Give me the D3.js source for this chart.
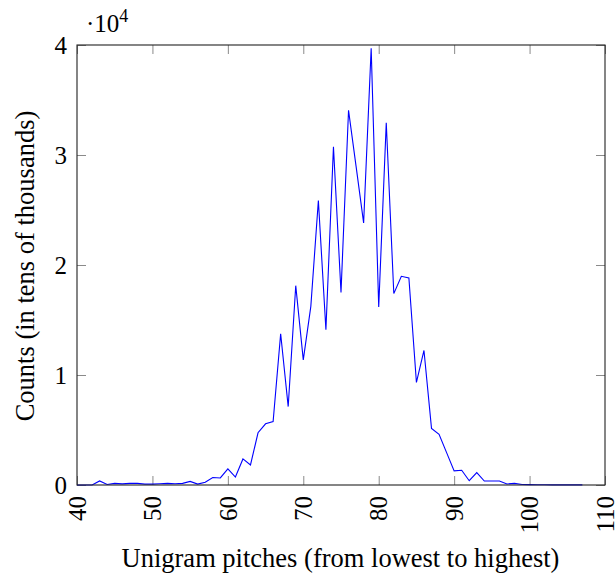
<!DOCTYPE html>
<html>
<head>
<meta charset="utf-8">
<script src="https://cdn.jsdelivr.net/npm/d3@7"></script>
<style>
  html, body { margin: 0; padding: 0; background: #fff; }
  svg { display: block; }
  text { font-family: "Liberation Serif", "Times New Roman", serif; fill: #000; }
</style>
</head>
<body>
<svg id="chart" width="616" height="575"></svg>
<script>
// ---- data ----
const pitches = d3.range(40, 108);
const counts = [
  0, 0, 0, 370, 50, 150, 100, 150, 150, 80,      // 40-49
  80, 120, 150, 120, 150, 330, 80, 250, 680, 640, // 50-59
  1470, 720, 2370, 1820, 4750, 5560, 5770, 13750, 7130, 18120, // 60-69
  11380, 16240, 25870, 14120, 30750, 17510, 34060, 28960, 23830, 39710, // 70-79
  16180, 32940, 17400, 18970, 18820, 9320, 12230, 5150, 4610, 2940, // 80-89
  1280, 1340, 390, 1120, 360, 360, 360, 90, 150, 40, // 90-99
  30, 20, 20, 10, 10, 10, 10, 10                 // 100-107
];
const xTicks = [40, 50, 60, 70, 80, 90, 100, 110];
const yTicks = [0, 10000, 20000, 30000, 40000];
const yTickLabels = ["0", "1", "2", "3", "4"];
const xLabel = "Unigram pitches (from lowest to highest)";
const yLabel = "Counts (in tens of thousands)";

// ---- layout ----
const mLeft = 77, mRight = 605, mTop = 45, mBottom = 485;
const tickLen = 9;
const tickFont = 25;
const labelFont = 26.5;

const svg = d3.select("#chart");
const x = d3.scaleLinear().domain([40, 110]).range([mLeft, mRight]);
const y = d3.scaleLinear().domain([0, 40000]).range([mBottom, mTop]);

// ticks (all four sides, inward)
const tickColor = "#8a8a8a";
const axB = d3.axisBottom(x).tickValues(xTicks).tickSizeInner(-tickLen).tickSizeOuter(0).tickFormat(d3.format("d"));
const axT = d3.axisTop(x).tickValues(xTicks).tickSizeInner(-tickLen).tickSizeOuter(0).tickFormat("");
const axL = d3.axisLeft(y).tickValues(yTicks).tickSizeInner(-tickLen).tickSizeOuter(0).tickFormat((d, i) => yTickLabels[i]);
const axR = d3.axisRight(y).tickValues(yTicks).tickSizeInner(-tickLen).tickSizeOuter(0).tickFormat("");

function styleAxis(g) {
  g.select(".domain").remove();
  g.selectAll(".tick line").attr("stroke", tickColor).attr("stroke-width", 1);
}

const gB = svg.append("g").attr("transform", `translate(0,${mBottom})`).call(axB).call(styleAxis);
gB.selectAll(".tick text")
  .attr("font-size", tickFont)
  .attr("transform", "rotate(-90)")
  .attr("x", -11)
  .attr("y", 0)
  .attr("dy", "0.33em")
  .attr("text-anchor", "end");

svg.append("g").attr("transform", `translate(0,${mTop})`).call(axT).call(styleAxis);

const gL = svg.append("g").attr("transform", `translate(${mLeft},0)`).call(axL).call(styleAxis);
gL.selectAll(".tick text")
  .attr("font-size", tickFont)
  .attr("x", -10)
  .attr("dy", "0.33em")
  .attr("text-anchor", "end");

svg.append("g").attr("transform", `translate(${mRight},0)`).call(axR).call(styleAxis);

// line
const data = pitches.map((p, i) => ({ p, c: counts[i] }));
svg.append("path")
  .datum(data)
  .attr("fill", "none")
  .attr("stroke", "#0000ff")
  .attr("stroke-width", 1.1)
  .attr("stroke-linejoin", "miter")
  .attr("d", d3.line().x(d => x(d.p)).y(d => y(d.c)));

// border
svg.append("rect")
  .attr("x", mLeft).attr("y", mTop)
  .attr("width", mRight - mLeft).attr("height", mBottom - mTop)
  .attr("fill", "none").attr("stroke", "#222").attr("stroke-width", 1.1);

// scale factor label
const sf = svg.append("text").attr("x", 86).attr("y", 32).attr("font-size", tickFont);
sf.append("tspan").text("\u00B710");
sf.append("tspan").attr("dy", -10).attr("font-size", 18).text("4");

// axis labels
svg.append("text")
  .attr("x", (mLeft + mRight) / 2 - 0.5).attr("y", 567)
  .attr("text-anchor", "middle").attr("font-size", labelFont)
  .text(xLabel);

svg.append("text")
  .attr("transform", `translate(34,${(mTop + mBottom) / 2 + 1}) rotate(-90)`)
  .attr("text-anchor", "middle").attr("font-size", labelFont)
  .text(yLabel);
</script>
</body>
</html>
